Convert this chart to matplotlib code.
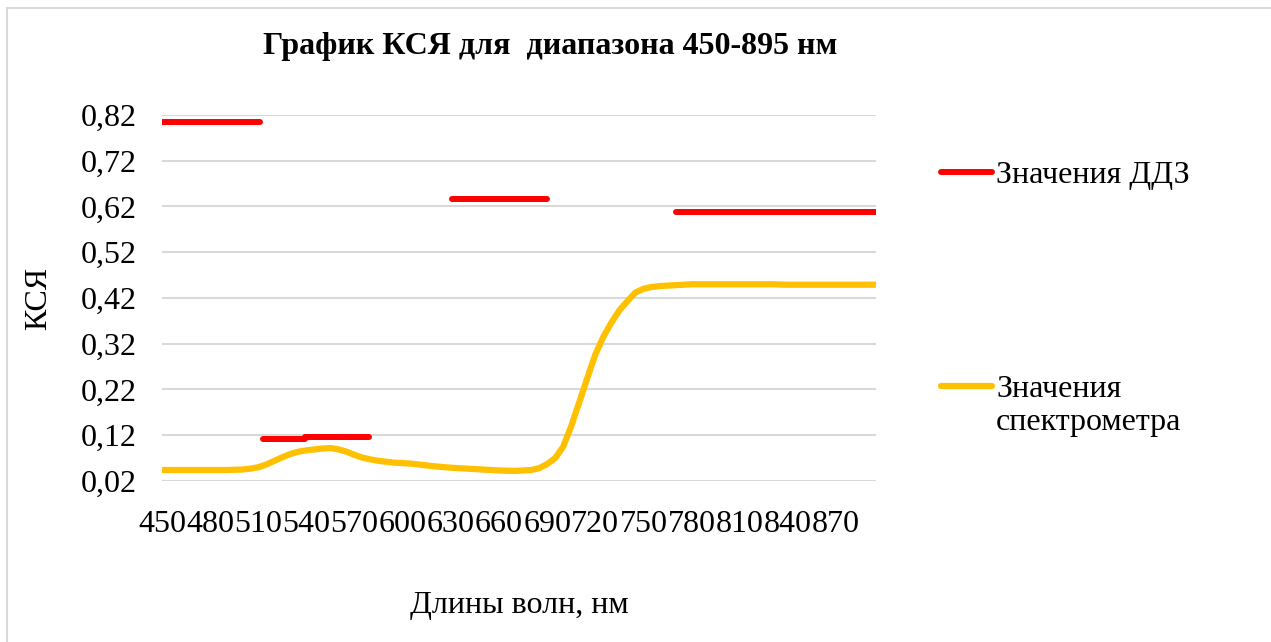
import numpy as np
import pandas as pd
import matplotlib.pyplot as plt
from matplotlib.patches import Rectangle

# Спектрометр: длина волны (нм) и КСЯ
wl_spec = [450, 460, 470, 480, 490, 500, 505, 510, 515, 520, 525, 530, 535, 540,
           545, 550, 555, 560, 565, 570, 575, 580, 585, 590, 595, 600, 605, 610,
           620, 630, 640, 650, 660, 670, 680, 685, 690, 695, 700, 705, 710, 715,
           720, 725, 730, 735, 740, 745, 750, 755, 760, 770, 780, 790, 800, 810,
           820, 830, 840, 850, 860, 870, 880, 890, 895]
ksy_spec = [0.044, 0.044, 0.044, 0.044, 0.044, 0.045, 0.047, 0.050, 0.056, 0.064,
            0.072, 0.079, 0.084, 0.087, 0.089, 0.091, 0.092, 0.089, 0.084, 0.077,
            0.071, 0.067, 0.064, 0.062, 0.060, 0.059, 0.058, 0.056, 0.052, 0.049,
            0.047, 0.045, 0.043, 0.042, 0.044, 0.048, 0.057, 0.070, 0.095, 0.140,
            0.192, 0.245, 0.296, 0.335, 0.366, 0.393, 0.413, 0.432, 0.440, 0.444,
            0.446, 0.448, 0.450, 0.450, 0.450, 0.450, 0.450, 0.450, 0.449, 0.449,
            0.449, 0.449, 0.449, 0.449, 0.449]

# Значения ДДЗ по каналам
band_start = [450, 513, 539, 631, 770]
band_end = [511, 539, 579, 690, 895]
band_ksy = [0.804, 0.111, 0.116, 0.637, 0.607]

y_ticks = [0.02, 0.12, 0.22, 0.32, 0.42, 0.52, 0.62, 0.72, 0.82]
x_ticks = list(range(450, 871, 30))

df = pd.DataFrame({"wl": wl_spec, "ksy": ksy_spec})

plt.rcParams['font.family'] = ['Liberation Serif', 'DejaVu Serif']

W, H = 1271, 642
fig = plt.figure(figsize=(W / 100, H / 100), dpi=100)
fig.add_artist(Rectangle((0.0055, -0.1), 1.5, 1.088, transform=fig.transFigure,
                         fill=False, edgecolor='#d9d9d9', linewidth=1.5))
ax = fig.add_axes([0.1275, 0.2508, 0.5618, 0.5701])

for i, (a, b, v) in enumerate(zip(band_start, band_end, band_ksy)):
    ax.plot([a, b], [v, v], color='#ff0000', linewidth=4.3, solid_capstyle='round',
            label='Значения ДДЗ' if i == 0 else None, zorder=3)
ax.plot(df["wl"], df["ksy"], color='#ffc000', linewidth=4.5, solid_capstyle='round',
        label='Значения', zorder=3)

ax.set_xlim(450, 895)
ax.set_ylim(0.02, 0.82)
ax.set_yticks(y_ticks)
ax.set_yticklabels([f"{t:.2f}".replace('.', ',') for t in y_ticks])
ax.set_xticks(x_ticks)
ax.set_xticklabels([str(t) for t in x_ticks])
ax.tick_params(length=0, labelsize=23)
ax.tick_params(axis='y', pad=18)
ax.tick_params(axis='x', pad=21)
ax.grid(True, axis='y', color='#d9d9d9', linewidth=1.5)
ax.set_axisbelow(True)
for s in ax.spines.values():
    s.set_visible(False)

ax.set_ylabel("КСЯ", fontsize=23, labelpad=20)
ax.set_xlabel("Длины волн, нм", fontsize=23, labelpad=37)
fig.text(0.4327, 0.927, "График КСЯ для  диапазона 450-895 нм", ha='center', va='center',
         fontsize=23, fontweight='bold')

leg = ax.legend(loc='upper left', bbox_to_anchor=(0.7305, 0.77), bbox_transform=fig.transFigure,
                frameon=False, fontsize=23, handlelength=1.6, handletextpad=0.12,
                labelspacing=5.8, borderaxespad=0)

# вторая строка подписи спектрометра — под первой строкой легенды
fig.canvas.draw()
bb = leg.get_texts()[1].get_window_extent()
fig.text(bb.x0 / W, (bb.y0 - 4) / H, "спектрометра", ha='left', va='top', fontsize=23)

fig.savefig("out.png", dpi=100)
